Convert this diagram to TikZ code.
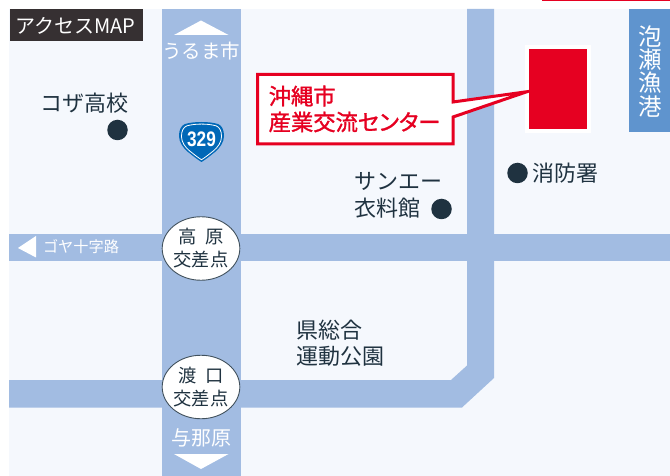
\documentclass[tikz,border=0pt]{standalone}
\usepackage{fontspec}
\usetikzlibrary{shapes.geometric}
\setmainfont{Noto Sans CJK JP}
\newfontfamily\palfont{Noto Sans CJK JP}[RawFeature=+palt, FakeBold=1.4]
\newfontfamily\numfont{Liberation Sans Bold}
\definecolor{bgc}{HTML}{F5F8FD}
\definecolor{roadc}{HTML}{A2BCE2}
\definecolor{redc}{HTML}{E60021}
\definecolor{inkc}{HTML}{1F3240}
\definecolor{portc}{HTML}{5F94CE}
\definecolor{tagc}{HTML}{363032}
\definecolor{shieldc}{HTML}{0068B7}
\newcommand{\fsz}[1]{\fontsize{#1bp}{#1bp}\selectfont}
\newcommand{\shieldpath}{(0,-19) .. controls (5.5,-19) and (11.5,-18.5) .. (16.5,-17) .. controls (20.5,-15.5) and (22.5,-11) .. (22.5,-5)
  .. controls (22.5,1) and (18.5,7) .. (13.5,11) .. controls (8.5,15) and (3.5,19) .. (0,21)
  .. controls (-3.5,19) and (-8.5,15) .. (-13.5,11) .. controls (-18.5,7) and (-22.5,1) .. (-22.5,-5)
  .. controls (-22.5,-11) and (-20.5,-15.5) .. (-16.5,-17) .. controls (-11.5,-18.5) and (-5.5,-19) .. (0,-19) -- cycle}
\tikzset{
  txt/.style={inner sep=0pt,outer sep=0pt,align=center,text=inkc},
  place/.style={txt,font=\fsz{22}},
  whitetxt/.style={inner sep=0pt,outer sep=0pt,text=white,font=\fsz{19.5}},
  spot/.style={circle,fill=inkc,inner sep=0pt,minimum size=20.5bp},
  crossing/.style={ellipse,draw=inkc!85,line width=.9bp,fill=white,inner sep=0pt,outer sep=0pt,
     minimum width=76.5bp,minimum height=63.5bp,align=center,text=inkc,font=\fontsize{18.3bp}{23bp}\selectfont},
  road/.style={fill=roadc,draw=none}
}
\begin{document}
\begin{tikzpicture}[x=1bp,y=-1bp]
\useasboundingbox (0,0) rectangle (670,476);
\fill[white] (0,0) rectangle (670,476);
\fill[bgc] (9,9) rectangle (670,476);
\fill[redc] (541.5,-1) rectangle (670,0.8);
% roads
\fill[road] (162,9) rectangle (241,476);
\fill[road] (9,234) rectangle (670,261);
\fill[road] (9,380) -- (451,380) -- (467,365.5) -- (467,9) -- (494,9) -- (494,378) -- (462,407.5) -- (9,407.5) -- cycle;
% port
\node[fill=portc,inner sep=0pt,minimum width=41bp,minimum height=123bp,anchor=north west] (port) at (629,9) {};
\node[whitetxt,font=\fsz{23.5},anchor=center] (p1) at (650,36.5) {泡};
\node[whitetxt,font=\fsz{23.5},anchor=center] (p2) at (650,59.5) {瀬};
\node[whitetxt,font=\fsz{23.5},anchor=center] (p3) at (650,83) {漁};
\node[whitetxt,font=\fsz{23.5},anchor=center] (p4) at (650,106.5) {港};
% tag
\node[fill=tagc,inner sep=0pt,minimum width=133bp,minimum height=32bp,anchor=north west] (tag) at (10,9) {};
\node[whitetxt,font=\fsz{20},anchor=center] (tagtext) at (75.5,25.5) {アクセスMAP};
% building
\node[fill=redc,draw=white,line width=4bp,inner sep=0pt,minimum width=62bp,minimum height=84bp,anchor=center] (bldg) at (558,89) {};
% callout
\draw[draw=redc,fill=white,line width=3bp,miter limit=12]
  (257.5,74.5) -- (453,74.5) -- (453,102) -- (527,91.7) -- (453,117) -- (453,144) -- (257.5,144) -- cycle;
\node[inner sep=0pt,text=redc,font=\fsz{22.3}\palfont,anchor=west] (c1) at (268.5,96) {沖縄市};
\node[inner sep=0pt,text=redc,font=\fsz{22.3}\palfont,anchor=west] (c2) at (268.5,122) {産業交流センター};
% direction marks
\fill[white] (201,20.5) -- (228.5,35) -- (174,35) -- cycle;
\node[whitetxt,anchor=center] (uruma) at (201,51) {うるま市};
\fill[white] (174,454) -- (228.5,454) -- (201,469) -- cycle;
\node[whitetxt,font=\fsz{20},anchor=center] (yonabaru) at (201,438) {与那原};
\fill[white] (18,248) -- (36,236) -- (36,257.5) -- cycle;
\node[whitetxt,font=\fsz{15.2},anchor=west] (goya) at (43,247) {ゴヤ十字路};
% shield
\begin{scope}[shift={(201.5,141)}]
\fill[shieldc] \shieldpath;
\draw[white,line width=.8bp,scale=.89] \shieldpath;
\end{scope}
\node[inner sep=0pt,text=white,font=\fsz{21}\numfont,anchor=center] (r329) at (201.5,139.5) {\scalebox{.82}[1]{329}};
% places
\node[place,anchor=west] (koza) at (40.5,103) {コザ高校};
\node[spot] (kozad) at (117.5,130) {};
\node[place,anchor=west] (sanei1) at (354.5,181) {サンエー};
\node[place,anchor=west] (sanei2) at (354.5,208) {衣料館};
\node[spot] (saneid) at (441.5,209) {};
\node[spot] (fired) at (517.5,173) {};
\node[place,anchor=west] (fire) at (532.5,173) {消防署};
\node[place,anchor=west] (park1) at (296.5,330) {県総合};
\node[place,anchor=west] (park2) at (296.5,356.5) {運動公園};
% crossings
\node[crossing] (takahara) at (201,248.5) {高\hspace{8bp}原\\交差点};
\node[crossing] (watoguchi) at (201,387) {渡\hspace{8bp}口\\交差点};
\end{tikzpicture}
\end{document}
